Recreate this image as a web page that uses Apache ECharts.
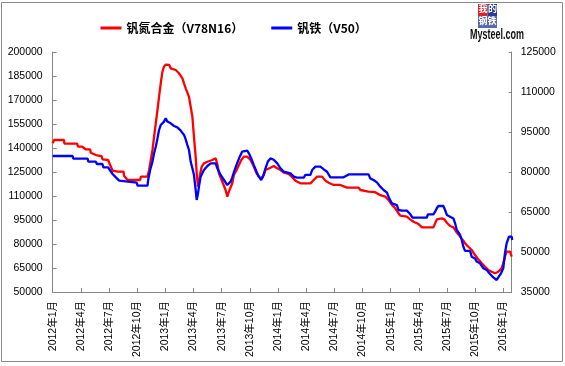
<!DOCTYPE html>
<html><head><meta charset="utf-8">
<script src="https://cdn.jsdelivr.net/npm/echarts@6/dist/echarts.min.js"></script>
<style>html,body{margin:0;padding:0;background:#fff}#c{width:565px;height:366px}</style>
</head><body><div id="c"></div><script>
// x positions: months since Jan 2012 (fractional)
const seriesNames = ['钒氮合金（V78N16）', '钒铁（V50）'];
const vnMonths = [0.0,0.15,1.2,1.25,2.6,2.7,3.15,3.2,3.5,4.0,4.05,4.6,5.2,5.31,5.9,6.02,6.2,6.38,6.91,7.55,7.6,7.97,9.31,9.39,10.1,10.27,10.45,10.63,10.8,10.98,11.16,11.33,11.51,11.69,11.86,12.04,12.4,12.57,13.1,13.46,13.82,13.99,14.17,14.52,14.7,14.88,15.05,15.23,15.34,15.48,15.58,15.69,15.87,16.11,16.48,17.0,17.36,17.54,17.71,18.07,18.42,18.6,18.77,19.13,19.3,19.59,19.84,20.09,20.37,20.55,20.72,21.08,21.43,21.72,21.96,22.21,22.49,22.67,22.85,23.2,23.55,23.92,24.27,24.62,25.15,25.51,25.86,26.39,27.46,27.81,28.17,28.7,29.05,29.4,29.93,30.64,30.82,31.36,32.59,32.77,33.65,34.36,34.72,35.07,35.43,35.78,36.14,36.49,36.84,37.02,37.73,38.08,38.44,38.97,39.33,40.56,40.74,40.92,41.45,41.73,41.99,42.34,42.69,42.87,43.05,43.4,43.75,43.93,44.28,44.64,44.99,45.34,45.71,46.06,46.41,46.77,47.12,47.47,47.83,48.0,48.18,48.36,48.72,48.9];
const vnValues = [143000,145000,145000,142700,142700,140800,140800,140200,139200,139200,137000,135600,134900,132900,132500,130800,128300,125800,125200,125200,122700,120000,120000,122100,122100,126250,132500,138750,147000,155400,163750,172000,180400,187700,190800,192100,192000,189800,188750,186700,183550,180400,177300,172000,165800,159600,147000,134600,124200,115800,117500,123100,128300,130400,131400,132500,133550,130000,124200,118900,113750,109600,112700,118000,123100,126250,129400,132500,134600,135200,134600,132500,128300,124200,122100,121000,123100,126250,127300,127700,128750,127300,126250,124600,123750,121700,119600,117900,117900,120000,122100,122100,119600,118300,116900,116900,115800,115200,115200,113750,112700,112400,111050,110200,109600,107500,104400,102300,99200,97700,97100,95400,93900,92500,90400,90400,92900,95400,96000,95400,93300,91250,90400,88750,87100,84600,82100,80400,78300,76250,73100,70400,67900,65800,63750,62700,61700,62700,64800,67900,72100,75200,75200,72100];
const feMonths = [0.0,2.12,2.2,3.72,3.8,4.6,4.7,5.3,5.4,5.9,6.02,6.38,6.73,7.08,7.26,8.96,9.03,10.1,10.17,10.38,10.63,10.8,10.98,11.16,11.33,11.51,11.69,11.86,12.04,12.22,12.57,12.93,13.28,13.64,13.99,14.17,14.35,14.52,14.7,14.88,15.05,15.23,15.34,15.48,15.58,15.76,16.11,16.48,16.83,17.36,17.54,17.89,18.25,18.6,18.95,19.13,19.36,19.64,19.93,20.18,20.37,20.72,20.9,21.15,21.43,21.72,21.96,22.21,22.4,22.67,22.92,23.2,23.55,23.92,24.27,24.62,25.33,25.68,26.04,26.75,26.92,27.46,27.64,27.99,28.52,28.88,29.05,29.23,29.58,30.64,30.82,30.99,31.53,33.65,33.83,34.18,34.54,34.9,35.25,35.61,35.85,36.14,36.67,36.84,37.2,37.73,38.08,38.33,39.86,39.97,40.56,40.74,40.92,41.09,41.62,41.8,41.99,42.34,42.69,42.87,43.05,43.4,43.58,43.75,43.93,44.46,44.64,44.99,45.17,45.52,45.88,46.24,46.59,46.94,47.3,47.47,47.76,48.0,48.18,48.36,48.61,48.9,48.96];
const feValues = [86000,86000,85000,85000,83900,83900,83000,83000,81750,81750,81000,79250,78000,76750,76000,76000,74900,74900,77000,80750,83900,87000,89500,92600,95750,97600,98250,98900,100100,98900,98250,97250,96750,95500,93900,92250,90100,88250,83900,81400,78900,73250,69500,72000,74500,78250,80750,82250,83250,83250,81400,78900,77000,75100,76400,78000,80500,83250,85750,87600,88250,88000,87000,85100,82600,80100,78250,77000,78250,81400,83900,85100,84600,83250,81400,80100,79500,78250,77900,77900,78900,78900,80750,82000,82000,81000,81400,80100,78000,78000,77300,78000,79100,79100,77600,77000,76100,74500,73250,72250,70100,68250,67600,65750,65500,65500,64250,62900,62900,64100,64100,65100,66400,67250,67250,65750,63900,63250,62600,60750,58250,56400,54500,52000,50400,50400,48250,47600,46400,45750,43900,43250,41750,40500,39500,40500,42000,43900,49500,53250,55750,55750,54500];
const leftAxisRange = [50000, 200000, 15000];
const rightAxisRange = [35000, 125000, 15000];
const monthRange = [0, 48.9, 3];
const startYear = 2012;

const zip = (xs, ys) => xs.map((x, i) => [x, ys[i]]);
const axisColor = '#868686';
const numFont = 'Liberation Sans, Arial, sans-serif';
const plain = v => String(v);

const chart = echarts.init(document.getElementById('c'), null, {renderer: 'canvas'});
chart.setOption({
  animation: false,
  backgroundColor: '#fff',
  grid: {left: 52.7, right: 53.3, top: 52, bottom: 74},
  legend: {
    left: 95.5, top: 17, itemWidth: 21, itemHeight: 3, itemGap: 28, icon: 'rect',
    textStyle: {fontSize: 12, color: '#000', fontWeight: 'bold', fontFamily: 'Noto Sans CJK SC'},
    data: seriesNames
  },
  xAxis: {
    type: 'value', min: monthRange[0], max: monthRange[1], interval: monthRange[2],
    axisLine: {lineStyle: {color: axisColor}},
    axisTick: {inside: true, length: 4, lineStyle: {color: axisColor}},
    splitLine: {show: false},
    axisLabel: {
      rotate: 90, margin: 9, fontSize: 10.5, color: '#000', fontFamily: numFont + ', Noto Sans CJK SC',
      showMaxLabel: false,
      formatter: v => (startYear + Math.floor(v / 12)) + '年' + (Math.round(v) % 12 + 1) + '月'
    }
  },
  yAxis: [
    {type: 'value', min: leftAxisRange[0], max: leftAxisRange[1], interval: leftAxisRange[2],
     axisLine: {show: true, lineStyle: {color: axisColor}},
     axisTick: {show: true, inside: true, length: 4, lineStyle: {color: axisColor}},
     splitLine: {show: false},
     axisLabel: {margin: 10, fontSize: 10.5, color: '#000', fontFamily: numFont, formatter: plain}},
    {type: 'value', min: rightAxisRange[0], max: rightAxisRange[1], interval: rightAxisRange[2],
     axisLine: {show: true, lineStyle: {color: axisColor}},
     axisTick: {show: true, inside: true, length: 3, lineStyle: {color: axisColor}},
     splitLine: {show: false},
     axisLabel: {margin: 9, fontSize: 10.5, color: '#000', fontFamily: numFont, formatter: plain}}
  ],
  series: [
    {name: seriesNames[0], type: 'line', yAxisIndex: 0, showSymbol: false, symbol: 'none',
     color: '#ff0000', lineStyle: {width: 2.3, color: '#ff0000'}, data: zip(vnMonths, vnValues), z: 3},
    {name: seriesNames[1], type: 'line', yAxisIndex: 1, showSymbol: false, symbol: 'none',
     color: '#0000ff', lineStyle: {width: 2.3, color: '#0000ff'}, data: zip(feMonths, feValues), z: 4}
  ],
  graphic: [
    {type: 'rect', shape: {x: 1.5, y: 2.5, width: 561, height: 359}, style: {fill: null, stroke: '#8a8a8a', lineWidth: 1}, silent: true},
    {type: 'rect', shape: {x: 478, y: 4, width: 9.5, height: 12}, style: {fill: '#d8232a'}},
    {type: 'rect', shape: {x: 487.5, y: 4, width: 9.5, height: 12}, style: {fill: '#2a3c9a'}},
    {type: 'rect', shape: {x: 478, y: 16, width: 19, height: 12}, style: {fill: '#5a6aa8'}},
    {type: 'text', x: 478.5, y: 4.5, style: {text: '我', fill: '#fff', fontSize: 9, fontFamily: 'Noto Sans CJK SC', fontWeight: 'bold'}},
    {type: 'text', x: 488, y: 4.5, style: {text: '的', fill: '#fff', fontSize: 9, fontFamily: 'Noto Sans CJK SC', fontWeight: 'bold'}},
    {type: 'text', x: 478.5, y: 16.5, style: {text: '钢铁', fill: '#fff', fontSize: 9, fontFamily: 'Noto Sans CJK SC', fontWeight: 'bold'}},
    {type: 'text', x: 470, y: 27, scaleX: 0.6, style: {text: 'Mysteel.com', fill: '#111', fontSize: 15, fontWeight: 'bold', fontFamily: 'Liberation Sans, sans-serif'}}
  ]
});
</script></body></html>
